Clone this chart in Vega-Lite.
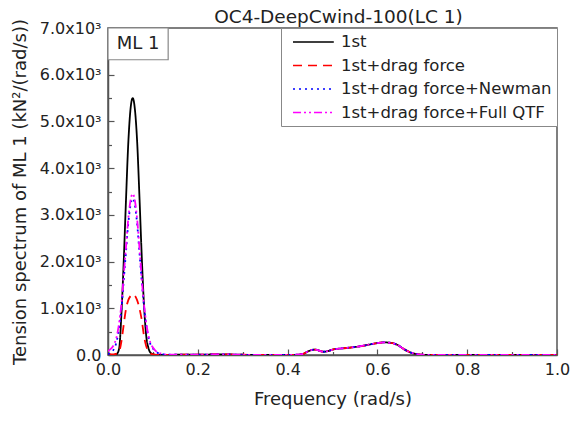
{
  "$schema": "https://vega.github.io/schema/vega-lite/v6.json",
  "width": 449,
  "height": 327,
  "autosize": {"type": "none"},
  "padding": {"left": 108, "top": 28, "right": 15, "bottom": 66},
  "background": "white",
  "config": {
    "font": "DejaVu Sans",
    "view": {"stroke": "#555", "strokeWidth": 1.5},
    "axis": {
      "grid": false,
      "labelFlush": false,
      "labelOverlap": false,
      "domainColor": "#555",
      "domainWidth": 1.5,
      "tickColor": "#555",
      "tickWidth": 1.2,
      "labelColor": "#222",
      "titleColor": "#222",
      "labelFont": "DejaVu Sans",
      "titleFont": "DejaVu Sans",
      "titleFontWeight": "normal"
    }
  },
  "title": {"text": "OC4-DeepCwind-100(LC 1)", "fontSize": 18.5, "fontWeight": "normal", "color": "#222", "offset": 5, "dy": 13, "dx": 6, "anchor": "middle", "font": "DejaVu Sans"},
  "data": {"values": [
    {"f": 0, "a": 0, "b": 30, "c": 20, "d": 80},
    {"f": 0.005, "a": 0, "b": 20, "c": 40, "d": 120},
    {"f": 0.01, "a": 0, "b": 15, "c": 80, "d": 170},
    {"f": 0.015, "a": 5, "b": 20, "c": 160, "d": 260},
    {"f": 0.02, "a": 25, "b": 30, "c": 320, "d": 420},
    {"f": 0.025, "a": 150, "b": 80, "c": 600, "d": 700},
    {"f": 0.03, "a": 900, "b": 300, "c": 1000, "d": 1100},
    {"f": 0.035, "a": 2000, "b": 650, "c": 1600, "d": 1700},
    {"f": 0.04, "a": 3300, "b": 980, "c": 2200, "d": 2300},
    {"f": 0.045, "a": 4500, "b": 1170, "c": 2800, "d": 2900},
    {"f": 0.05, "a": 5250, "b": 1260, "c": 3200, "d": 3300},
    {"f": 0.055, "a": 5500, "b": 1300, "c": 3350, "d": 3450},
    {"f": 0.06, "a": 5250, "b": 1270, "c": 3200, "d": 3300},
    {"f": 0.065, "a": 4550, "b": 1170, "c": 2800, "d": 2900},
    {"f": 0.07, "a": 3400, "b": 1000, "c": 2200, "d": 2300},
    {"f": 0.075, "a": 2150, "b": 760, "c": 1600, "d": 1650},
    {"f": 0.08, "a": 1100, "b": 420, "c": 1050, "d": 1100},
    {"f": 0.085, "a": 420, "b": 190, "c": 650, "d": 700},
    {"f": 0.09, "a": 150, "b": 80, "c": 380, "d": 420},
    {"f": 0.095, "a": 45, "b": 30, "c": 220, "d": 250},
    {"f": 0.1, "a": 15, "b": 12, "c": 140, "d": 160},
    {"f": 0.105, "a": 5, "b": 5, "c": 90, "d": 100},
    {"f": 0.11, "a": 0, "b": 0, "c": 50, "d": 60},
    {"f": 0.12, "a": 0, "b": 0, "c": 20, "d": 25},
    {"f": 0.13, "a": 0, "b": 0, "c": 8, "d": 10},
    {"f": 0.15, "a": 5, "b": 5, "c": 5, "d": 5},
    {"f": 0.2, "a": 5, "b": 5, "c": 5, "d": 5},
    {"f": 0.25, "a": 15, "b": 15, "c": 15, "d": 15},
    {"f": 0.3, "a": 5, "b": 5, "c": 5, "d": 5},
    {"f": 0.35, "a": 0, "b": 0, "c": 0, "d": 0},
    {"f": 0.4, "a": 0, "b": 0, "c": 0, "d": 0},
    {"f": 0.42, "a": 5, "b": 5, "c": 5, "d": 5},
    {"f": 0.435, "a": 25, "b": 25, "c": 25, "d": 25},
    {"f": 0.445, "a": 75, "b": 75, "c": 75, "d": 75},
    {"f": 0.455, "a": 110, "b": 110, "c": 110, "d": 110},
    {"f": 0.462, "a": 115, "b": 115, "c": 115, "d": 115},
    {"f": 0.47, "a": 95, "b": 95, "c": 95, "d": 95},
    {"f": 0.48, "a": 70, "b": 70, "c": 70, "d": 70},
    {"f": 0.49, "a": 85, "b": 85, "c": 85, "d": 85},
    {"f": 0.5, "a": 115, "b": 115, "c": 115, "d": 115},
    {"f": 0.52, "a": 140, "b": 140, "c": 140, "d": 140},
    {"f": 0.54, "a": 160, "b": 160, "c": 160, "d": 160},
    {"f": 0.56, "a": 185, "b": 185, "c": 185, "d": 185},
    {"f": 0.58, "a": 220, "b": 220, "c": 220, "d": 220},
    {"f": 0.6, "a": 255, "b": 255, "c": 255, "d": 255},
    {"f": 0.615, "a": 270, "b": 270, "c": 270, "d": 270},
    {"f": 0.63, "a": 260, "b": 260, "c": 260, "d": 260},
    {"f": 0.645, "a": 215, "b": 215, "c": 215, "d": 215},
    {"f": 0.66, "a": 120, "b": 120, "c": 120, "d": 120},
    {"f": 0.675, "a": 50, "b": 50, "c": 50, "d": 50},
    {"f": 0.69, "a": 15, "b": 15, "c": 15, "d": 15},
    {"f": 0.7, "a": 5, "b": 5, "c": 5, "d": 5},
    {"f": 0.72, "a": 0, "b": 0, "c": 0, "d": 0},
    {"f": 0.76, "a": 0, "b": 0, "c": 0, "d": 0},
    {"f": 0.8, "a": 0, "b": 0, "c": 0, "d": 0},
    {"f": 0.9, "a": 0, "b": 0, "c": 0, "d": 0},
    {"f": 1.0, "a": 0, "b": 0, "c": 0, "d": 0}
  ]},
  "resolve": {"axis": {"x": "independent", "y": "independent"}},
  "layer": [
    {
      "transform": [
        {"fold": ["a", "b", "c", "d"], "as": ["key", "value"]},
        {"lookup": "key", "from": {"data": {"values": [
          {"key": "a", "series": "1st"},
          {"key": "b", "series": "1st+drag force"},
          {"key": "c", "series": "1st+drag force+Newman"},
          {"key": "d", "series": "1st+drag force+Full QTF"}
        ]}, "key": "key", "fields": ["series"]}}
      ],
      "mark": {"type": "line", "interpolate": "monotone", "strokeWidth": 1.8, "clip": true},
      "encoding": {
        "x": {
          "field": "f", "type": "quantitative",
          "scale": {"domain": [0, 1], "nice": false, "zero": false, "padding": 0},
          "axis": {"orient": "bottom", "values": [0, 0.2, 0.4, 0.6, 0.8, 1.0], "format": ".1f", "tickSize": -6, "labelPadding": 12, "labelFontSize": 16, "title": "Frequency (rad/s)", "titleFontSize": 18, "titlePadding": 13}
        },
        "y": {
          "field": "value", "type": "quantitative",
          "scale": {"domain": [0, 7000], "nice": false, "padding": 0},
          "axis": {"orient": "left", "values": [0, 1000, 2000, 3000, 4000, 5000, 6000, 7000], "labelExpr": "datum.value == 0 ? '0.0' : format(datum.value / 1000, '.1f') + 'x10³'", "tickSize": -6, "labelPadding": 13, "labelFontSize": 16, "title": "Tension spectrum of ML 1 (kN²/(rad/s))", "titleFontSize": 18, "titlePadding": 10}
        },
        "color": {
          "field": "series", "type": "nominal",
          "scale": {"domain": ["1st", "1st+drag force", "1st+drag force+Newman", "1st+drag force+Full QTF"], "range": ["#000000", "#ff0000", "#0000ff", "#ff00ff"]},
          "legend": {"title": null, "orient": "top-right", "offset": 0, "padding": 5, "rowPadding": 5.5, "labelFontSize": 16.5, "labelColor": "#222", "labelLimit": 400, "labelOffset": 31, "symbolType": "M-1,0H4.1", "symbolSize": 256, "symbolStrokeWidth": 1.6, "symbolOffset": 6, "strokeColor": "#888", "fillColor": "white", "cornerRadius": 0}
        },
        "strokeDash": {
          "field": "series", "type": "nominal",
          "scale": {"domain": ["1st", "1st+drag force", "1st+drag force+Newman", "1st+drag force+Full QTF"], "range": [[1, 0], [9, 6], [2, 4], [8, 3, 2, 3, 2, 3]]},
          "legend": {"title": null, "orient": "top-right", "offset": 0, "padding": 5, "rowPadding": 5.5, "labelFontSize": 16.5, "labelColor": "#222", "labelLimit": 400, "labelOffset": 31, "symbolType": "M-1,0H4.1", "symbolSize": 256, "symbolStrokeWidth": 1.6, "symbolOffset": 6, "strokeColor": "#888", "fillColor": "white", "cornerRadius": 0}
        }
      }
    },
    {
      "data": {"values": [{}]},
      "mark": {"type": "rect", "fill": "white", "stroke": "#888", "strokeWidth": 1.2},
      "encoding": {
        "x": {"datum": 0, "type": "quantitative", "scale": {"domain": [0, 1], "nice": false, "zero": false, "padding": 0}, "axis": {"orient": "bottom", "values": [0.1, 0.3, 0.5, 0.7, 0.9], "labels": false, "tickSize": -3.5, "domain": false, "title": null}},
        "x2": {"datum": 0.134},
        "y": {"datum": 6320, "type": "quantitative", "scale": {"domain": [0, 7000], "nice": false, "padding": 0}, "axis": {"orient": "left", "values": [500, 1500, 2500, 3500, 4500, 5500, 6500], "labels": false, "tickSize": -3.5, "domain": false, "title": null}},
        "y2": {"datum": 7000}
      }
    },
    {
      "data": {"values": [{}]},
      "mark": {"type": "text", "text": "ML 1", "fontSize": 18, "color": "#222", "font": "DejaVu Sans"},
      "encoding": {
        "x": {"datum": 0.067, "type": "quantitative", "axis": null},
        "y": {"datum": 6650, "type": "quantitative", "axis": null}
      }
    }
  ]
}
